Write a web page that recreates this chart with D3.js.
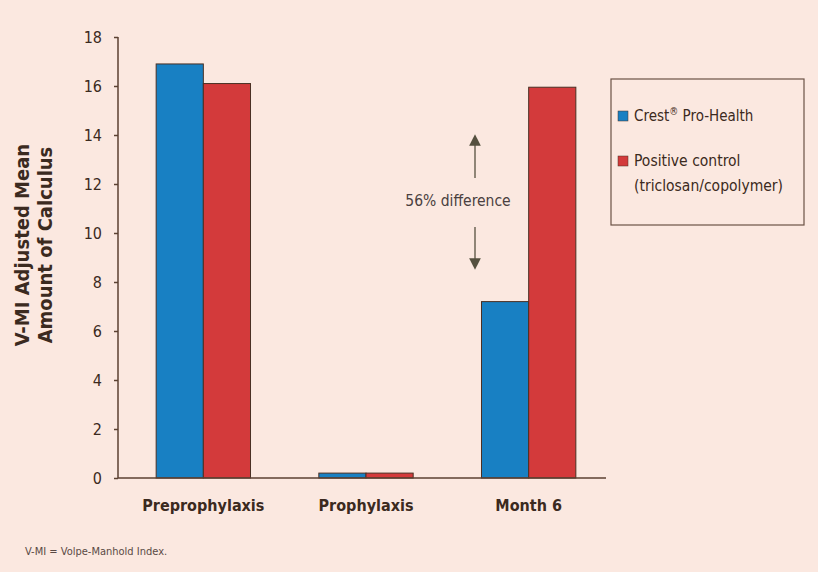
<!DOCTYPE html>
<html><head><meta charset="utf-8">
<script src="https://cdn.jsdelivr.net/npm/d3@7"></script>
<style>
html,body{margin:0;padding:0;background:#fbe8e0;}
svg{display:block;}
</style></head>
<body>
<svg id="chart" width="818" height="572"></svg>
<script>
const categories = ["Preprophylaxis", "Prophylaxis", "Month 6"];
const seriesNames = ["Crest® Pro-Health", "Positive control (triclosan/copolymer)"];
const crestValues = [16.9, 0.2, 7.2];
const controlValues = [16.1, 0.2, 15.95];
const yTicks = [0, 2, 4, 6, 8, 10, 12, 14, 16, 18];
const colors = ["#1880c3", "#d33a3b"];

const svg = d3.select("#chart");
svg.append("rect").attr("width", 818).attr("height", 572).attr("fill", "#fbe8e0");

const axisColor = "#5b4132";
const narrow = "'Liberation Sans Narrow', 'Arial Narrow', 'DejaVu Sans Condensed', sans-serif";

const x0 = d3.scaleBand().domain(categories).range([122, 610]).paddingInner(0.42).paddingOuter(0.21);
const x1 = d3.scaleBand().domain([0, 1]).range([0, x0.bandwidth()]);
const y = d3.scaleLinear().domain([0, 18]).range([478, 37]);

// bars
const data = categories.map((c, i) => ({cat: c, vals: [crestValues[i], controlValues[i]]}));
const g = svg.append("g");
g.selectAll("g.grp").data(data).join("g")
  .attr("transform", d => `translate(${x0(d.cat)},0)`)
  .selectAll("rect").data(d => d.vals.map((v, k) => ({v, k})))
  .join("rect")
  .attr("x", d => x1(d.k))
  .attr("width", x1.bandwidth())
  .attr("y", d => y(d.v))
  .attr("height", d => y(0) - y(d.v))
  .attr("fill", d => colors[d.k])
  .attr("stroke", "#4a3024")
  .attr("stroke-width", 1);

// y axis
const yAxis = d3.axisLeft(y).tickValues(yTicks).tickSize(4).tickPadding(12);
const ya = svg.append("g").attr("transform", "translate(118,0)").call(yAxis);
ya.select(".domain").attr("stroke", axisColor).attr("stroke-width", 1.5).attr("d", `M0,${y(18)}V${y(0)}`);
ya.selectAll(".tick line").attr("stroke", axisColor).attr("stroke-width", 1.5);
ya.selectAll(".tick text").attr("fill", "#3b2a20").style("font-family", narrow).style("font-size", "16px");

// x axis
const xAxis = d3.axisBottom(x0).tickSize(0).tickPadding(22);
const xa = svg.append("g").attr("transform", `translate(0,${y(0)})`).call(xAxis);
xa.select(".domain").attr("stroke", axisColor).attr("stroke-width", 1.5).attr("d", `M118,0H606`);
xa.selectAll(".tick text").attr("fill", "#3b2a20").style("font-family", narrow).style("font-size", "16px").style("font-weight", "bold");

// y title
const yt = svg.append("text").attr("transform", "translate(0,245) rotate(-90)")
  .attr("text-anchor", "middle").attr("fill", "#3b2a20")
  .style("font-family", narrow).style("font-size", "20px").style("font-weight", "bold");
yt.append("tspan").attr("x", 0).attr("y", 29).text("V-MI Adjusted Mean");
yt.append("tspan").attr("x", 0).attr("y", 52).text("Amount of Calculus");

// legend
const lg = svg.append("g");
lg.append("rect").attr("x", 611).attr("y", 79).attr("width", 193).attr("height", 146)
  .attr("fill", "none").attr("stroke", "#6b5245").attr("stroke-width", 1.2);
lg.append("rect").attr("x", 618).attr("y", 111).attr("width", 10).attr("height", 10).attr("fill", colors[0]).attr("stroke", "#4a3024").attr("stroke-width", 0.5);
lg.append("rect").attr("x", 618).attr("y", 156).attr("width", 10).attr("height", 10).attr("fill", colors[1]).attr("stroke", "#4a3024").attr("stroke-width", 0.5);
const lt1 = lg.append("text").attr("x", 634).attr("y", 121).attr("fill", "#3b2a20")
  .style("font-family", narrow).style("font-size", "15px");
lt1.append("tspan").text("Crest");
lt1.append("tspan").attr("dy", -6).style("font-size", "10px").text("®");
lt1.append("tspan").attr("dy", 6).text(" Pro-Health");
const lt2 = lg.append("text").attr("fill", "#3b2a20").style("font-family", narrow).style("font-size", "15.5px");
lt2.append("tspan").attr("x", 634).attr("y", 166).text("Positive control");
lt2.append("tspan").attr("x", 634).attr("y", 191).text("(triclosan/copolymer)");

// annotation
const ax = 475;
svg.append("defs").append("marker").attr("id", "ah").attr("viewBox", "0 0 10 10")
  .attr("refX", 5).attr("refY", 5).attr("markerWidth", 9).attr("markerHeight", 11).attr("orient", "auto")
  .append("path").attr("d", "M0,0L10,5L0,10Z").attr("fill", "#55503f");
svg.append("line").attr("x1", ax).attr("x2", ax).attr("y1", 178).attr("y2", 140)
  .attr("stroke", "#55503f").attr("stroke-width", 1.3).attr("marker-end", "url(#ah)");
svg.append("line").attr("x1", ax).attr("x2", ax).attr("y1", 227).attr("y2", 264)
  .attr("stroke", "#55503f").attr("stroke-width", 1.3).attr("marker-end", "url(#ah)");
svg.append("text").attr("x", 458).attr("y", 206).attr("text-anchor", "middle").attr("fill", "#4a4040")
  .style("font-family", narrow).style("font-size", "15.5px").text("56% difference");

// footnote
svg.append("text").attr("x", 25).attr("y", 555).attr("fill", "#5a4a45")
  .style("font-family", narrow).style("font-size", "11px").text("V-MI = Volpe-Manhold Index.");
</script>
</body></html>
